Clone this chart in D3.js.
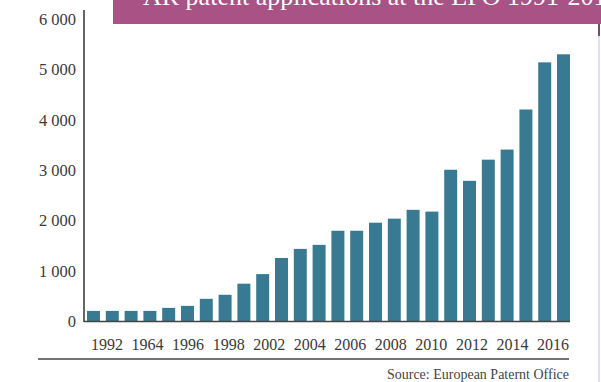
<!DOCTYPE html>
<html>
<head>
<meta charset="utf-8">
<script src="https://cdn.jsdelivr.net/npm/d3@7"></script>
<style>
  html, body { margin: 0; padding: 0; background: #fff; }
  svg { display: block; }
  text { font-family: "Liberation Serif", "Times New Roman", serif; }
</style>
</head>
<body>
<svg id="chart" width="601" height="382"></svg>
<script>
// AR patent applications filed at the EPO, one bar per year
const years = d3.range(1991, 2017);
const applications = [
  210, 210, 210, 210, 270, 310, 450, 530, 750, 940,
  1260, 1440, 1520, 1800, 1800, 1960, 2040, 2215, 2180, 3010,
  2790, 3210, 3410, 4205, 5140, 5300
];
// Category labels printed under the axis
const xLabels = ["1992", "1964", "1996", "1998", "2002", "2004",
                 "2006", "2008", "2010", "2012", "2014", "2016"];
const yTicks = [0, 1000, 2000, 3000, 4000, 5000, 6000];
const title = "AR patent applications at the EPO 1991-2016";
const source = "Source: European Paternt Office";

const svg = d3.select("#chart");

const x = d3.scaleBand()
  .domain(years)
  .range([87, 570])
  .paddingInner(0.31)
  .paddingOuter(0);

const xl = d3.scalePoint()
  .domain(xLabels)
  .range([106.5, 552.5]);

const y = d3.scaleLinear()
  .domain([0, 6000])
  .range([321.5, 19]);

// Title banner (the headline runs past the top edge of the page)
svg.append("rect")
  .attr("x", 113).attr("y", 0)
  .attr("width", 488).attr("height", 24)
  .attr("fill", "#a85286");
svg.append("clipPath").attr("id", "bannerClip")
  .append("rect").attr("x", 113).attr("y", 0).attr("width", 488).attr("height", 24);
svg.append("text")
  .attr("clip-path", "url(#bannerClip)")
  .attr("x", 143).attr("y", 5)
  .attr("fill", "#fff")
  .attr("font-size", 26)
  .text(title);

// Right page edge
svg.append("rect")
  .attr("x", 598).attr("y", 24).attr("width", 2).attr("height", 358)
  .attr("fill", "#e6def0");
svg.append("rect")
  .attr("x", 598).attr("y", 24).attr("width", 2).attr("height", 12)
  .attr("fill", "#7a4a6a");

// Bars
svg.append("g")
  .selectAll("rect")
  .data(years)
  .join("rect")
  .attr("x", d => x(d))
  .attr("y", (d, i) => y(applications[i]))
  .attr("width", x.bandwidth())
  .attr("height", (d, i) => y(0) - y(applications[i]))
  .attr("fill", "#377a92");

// Y axis
const yAxis = svg.append("g")
  .attr("transform", "translate(84,0)")
  .call(d3.axisLeft(y)
    .tickValues(yTicks)
    .tickSize(0)
    .tickPadding(8)
    .tickFormat(d => d3.format(",")(d).replace(/,/g, " ")));
yAxis.select(".domain").remove();
yAxis.selectAll("text")
  .attr("font-size", 16.5)
  .attr("fill", "#3a3a3a")
  .attr("font-family", "Liberation Serif, serif");
svg.append("line")
  .attr("x1", 84).attr("x2", 84)
  .attr("y1", 10).attr("y2", 322)
  .attr("stroke", "#333").attr("stroke-width", 1.5);

// Baseline
svg.append("line")
  .attr("x1", 84).attr("x2", 570)
  .attr("y1", y(0)).attr("y2", y(0))
  .attr("stroke", "#444").attr("stroke-width", 1.5);

// X labels
const xAxis = svg.append("g")
  .attr("transform", "translate(0,335)")
  .call(d3.axisBottom(xl).tickSize(0).tickPadding(4));
xAxis.select(".domain").remove();
xAxis.selectAll("text")
  .attr("font-size", 16)
  .attr("fill", "#3a3a3a")
  .attr("font-family", "Liberation Serif, serif");

// Footer rule and source
svg.append("line")
  .attr("x1", 38).attr("x2", 569)
  .attr("y1", 359).attr("y2", 359)
  .attr("stroke", "#444").attr("stroke-width", 1.5);
svg.append("text")
  .attr("x", 569).attr("y", 379)
  .attr("text-anchor", "end")
  .attr("font-size", 14)
  .attr("fill", "#444")
  .text(source);
</script>
</body>
</html>
